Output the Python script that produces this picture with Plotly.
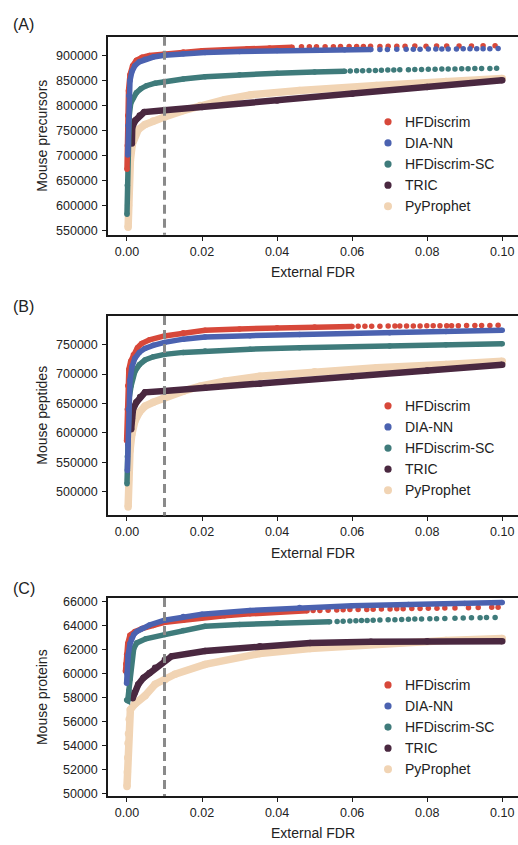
import plotly.graph_objects as go

# ---------------------------------------------------------------- data
SERIES = ["HFDiscrim", "DIA-NN", "HFDiscrim-SC", "TRIC", "PyProphet"]
COLORS = {
    "HFDiscrim": "#D7483A",
    "DIA-NN": "#4B62B0",
    "HFDiscrim-SC": "#3F7B7B",
    "TRIC": "#4A2840",
    "PyProphet": "#F1D4B4",
}
WIDTHS = {"HFDiscrim": 5.5, "DIA-NN": 5.5, "HFDiscrim-SC": 5.5, "TRIC": 6.5, "PyProphet": 7.5}
DRAW_ORDER = ["PyProphet", "TRIC", "HFDiscrim-SC", "HFDiscrim", "DIA-NN"]

x_ticks = [0.00, 0.02, 0.04, 0.06, 0.08, 0.10]
x_tick_labels = ["0.00", "0.02", "0.04", "0.06", "0.08", "0.10"]
prec_ticks = [550000, 600000, 650000, 700000, 750000, 800000, 850000, 900000]
pep_ticks = [500000, 550000, 600000, 650000, 700000, 750000]
prot_ticks = [50000, 52000, 54000, 56000, 58000, 60000, 62000, 64000, 66000]

# (A) precursors
prec_hfd_fdr = [0.0000, 0.0001, 0.0002, 0.0004, 0.0008, 0.0015, 0.0025, 0.0040, 0.0060, 0.0100,
                0.0150, 0.0200, 0.0260, 0.0320, 0.0380, 0.0440]
prec_hfd_n = [672000, 720000, 780000, 830000, 862000, 880000, 891000, 897000, 900800, 904000,
              907500, 910000, 912300, 914200, 915800, 917000]
prec_hfd_tail_fdr = [0.0465, 0.0486, 0.0505, 0.0528, 0.0550, 0.0569, 0.0592, 0.0612, 0.0630, 0.0649,
                     0.0674, 0.0696, 0.0719, 0.0741, 0.0767, 0.0797, 0.0825, 0.0852, 0.0885, 0.0918,
                     0.0949, 0.0981]
prec_hfd_tail_n = [918000, 918200, 918100, 918400, 918300, 918600, 918500, 918800, 918700, 919000,
                   918900, 919200, 919100, 919300, 919500, 919400, 919700, 919600, 919900, 919800,
                   920100, 920000]

prec_dia_fdr = [0.0002, 0.0003, 0.0005, 0.0008, 0.0013, 0.0021, 0.0033, 0.0048, 0.0070, 0.0100,
                0.0150, 0.0208, 0.0300, 0.0400, 0.0500, 0.0580, 0.0650]
prec_dia_n = [701000, 760000, 820000, 850000, 868000, 880000, 888000, 893000, 897500, 901000,
              904000, 906500, 908800, 910500, 911500, 912200, 912600]
prec_dia_tail_fdr = [0.0674, 0.0694, 0.0719, 0.0744, 0.0763, 0.0781, 0.0803, 0.0823, 0.0839, 0.0856,
                     0.0878, 0.0896, 0.0914, 0.0932, 0.0949, 0.0967, 0.0989]
prec_dia_tail_n = [912800, 912900, 913000, 913200, 913300, 913400, 913500, 913600, 913700, 913800,
                   913900, 914000, 914100, 914200, 914300, 914400, 914500]

prec_sc_fdr = [0.0000, 0.0001, 0.0003, 0.0006, 0.0010, 0.0016, 0.0025, 0.0037, 0.0052, 0.0075,
               0.0100, 0.0150, 0.0208, 0.0300, 0.0400, 0.0500, 0.0580]
prec_sc_n = [582000, 640000, 720000, 780000, 805000, 816000, 826000, 834000, 840000, 845000,
             848000, 853500, 858000, 862000, 865000, 867500, 869200]
prec_sc_tail_fdr = [0.0595, 0.0612, 0.0628, 0.0645, 0.0662, 0.0678, 0.0695, 0.0711, 0.0727, 0.0750,
                    0.0767, 0.0785, 0.0803, 0.0821, 0.0839, 0.0856, 0.0874, 0.0892, 0.0909, 0.0927,
                    0.0945, 0.0967, 0.0985]
prec_sc_tail_n = [869500, 869800, 870100, 870400, 870700, 871000, 871300, 871600, 871900, 872200,
                  872500, 872700, 872900, 873100, 873300, 873500, 873700, 873900, 874100, 874300,
                  874500, 874700, 874900]

prec_tric_fdr = [0.0013, 0.0014, 0.0022, 0.0034, 0.0046, 0.0100, 0.0200, 0.0400, 0.0600, 0.0800, 0.1000]
prec_tric_n = [724000, 757000, 770000, 780000, 787000, 790500, 797000, 810500, 824000, 837500, 851000]

prec_pyp_fdr = [0.0003, 0.0004, 0.0006, 0.0009, 0.0014, 0.0021, 0.0030, 0.0048, 0.0070, 0.0100,
                0.0150, 0.0195, 0.0260, 0.0328, 0.0460, 0.0665, 0.0850, 0.1000]
prec_pyp_n = [556000, 600000, 650000, 690000, 722000, 740000, 752000, 762000, 769000, 777000,
              790000, 800000, 812000, 821500, 830500, 840500, 848500, 854500]

# (B) peptides
pep_hfd_fdr = [-0.0001, 0.0001, 0.0002, 0.0005, 0.0010, 0.0017, 0.0028, 0.0039, 0.0060, 0.0100,
               0.0150, 0.0208, 0.0300, 0.0400, 0.0500, 0.0600]
pep_hfd_n = [586500, 640000, 680000, 708000, 722000, 733000, 745000, 752000, 758500, 765000,
             770500, 774500, 777000, 779000, 780300, 781200]
pep_hfd_tail_fdr = [0.0616, 0.0634, 0.0652, 0.0674, 0.0696, 0.0714, 0.0727, 0.0745, 0.0763, 0.0781,
                    0.0799, 0.0816, 0.0834, 0.0852, 0.0865, 0.0883, 0.0905, 0.0927, 0.0945, 0.0967,
                    0.0989]
pep_hfd_tail_n = [781300, 781400, 781500, 781600, 781700, 781800, 781850, 781900, 782000, 782100,
                  782150, 782200, 782300, 782400, 782450, 782500, 782600, 782700, 782800, 782900,
                  783000]

pep_dia_fdr = [0.0001, 0.0002, 0.0004, 0.0008, 0.0013, 0.0021, 0.0033, 0.0048, 0.0070, 0.0100,
               0.0150, 0.0208, 0.0328, 0.0460, 0.0700, 0.0850, 0.1000]
pep_dia_n = [536000, 580000, 640000, 690000, 712000, 727000, 737000, 743800, 749000, 754000,
             759500, 763000, 765500, 767500, 770500, 772500, 774500]

pep_sc_fdr = [0.0000, 0.0001, 0.0003, 0.0006, 0.0011, 0.0021, 0.0033, 0.0048, 0.0070, 0.0100,
              0.0150, 0.0208, 0.0328, 0.0460, 0.0700, 0.0850, 0.1000]
pep_sc_n = [513500, 560000, 620000, 660000, 680000, 704500, 716000, 724000, 729500, 733600,
            737000, 739500, 742500, 745000, 748000, 749800, 751500]

pep_tric_fdr = [0.0011, 0.0013, 0.0016, 0.0025, 0.0035, 0.0048, 0.0100, 0.0208, 0.0354, 0.0600,
                0.0800, 0.1000]
pep_tric_n = [606000, 625000, 640000, 652000, 661000, 669000, 671300, 676800, 683700, 696000,
              706000, 716000]

pep_pyp_fdr = [0.0003, 0.0004, 0.0006, 0.0008, 0.0013, 0.0021, 0.0033, 0.0048, 0.0070, 0.0097,
               0.0150, 0.0195, 0.0260, 0.0354, 0.0500, 0.0665, 0.0850, 0.1000]
pep_pyp_n = [474000, 520000, 555000, 570000, 598000, 620000, 635000, 645500, 652000, 659000,
             671000, 679500, 688000, 696500, 704000, 710700, 716500, 722000]

# (C) proteins
prot_hfd_fdr = [-0.0004, -0.0003, -0.0001, 0.0002, 0.0008, 0.0021, 0.0040, 0.0070, 0.0097, 0.0150,
                0.0200, 0.0260, 0.0328, 0.0400, 0.0480]
prot_hfd_n = [60200, 60800, 61600, 62500, 63200, 63500, 63750, 64000, 64250, 64450,
              64650, 64820, 64980, 65120, 65230]
prot_hfd_tail_fdr = [0.0496, 0.0514, 0.0536, 0.0559, 0.0576, 0.0594, 0.0616, 0.0639, 0.0656, 0.0678,
                     0.0701, 0.0719, 0.0736, 0.0759, 0.0781, 0.0803, 0.0826, 0.0847, 0.0874, 0.0910,
                     0.0936, 0.0972, 0.0989]
prot_hfd_tail_n = [65250, 65260, 65280, 65300, 65310, 65330, 65340, 65350, 65360, 65380,
                   65390, 65400, 65410, 65420, 65430, 65440, 65450, 65460, 65470, 65490,
                   65500, 65520, 65530]

prot_dia_fdr = [-0.0001, 0.0000, 0.0003, 0.0008, 0.0012, 0.0018, 0.0026, 0.0040, 0.0060, 0.0100,
                0.0150, 0.0200, 0.0328, 0.0460, 0.0600, 0.0750, 0.0900, 0.1000]
prot_dia_n = [59200, 60000, 61500, 62500, 62900, 63250, 63500, 63750, 64050, 64450,
              64750, 64950, 65260, 65500, 65650, 65750, 65850, 65930]

prot_sc_fdr = [-0.0001, 0.0002, 0.0005, 0.0008, 0.0012, 0.0018, 0.0026, 0.0050, 0.0101, 0.0150,
               0.0208, 0.0300, 0.0400, 0.0540]
prot_sc_n = [57800, 57750, 58600, 59530, 61180, 62100, 62560, 62900, 63250, 63600,
             63940, 64100, 64230, 64330]
prot_sc_tail_fdr = [0.0560, 0.0576, 0.0594, 0.0610, 0.0625, 0.0640, 0.0656, 0.0674, 0.0696, 0.0714,
                    0.0732, 0.0750, 0.0767, 0.0785, 0.0807, 0.0825, 0.0847, 0.0874, 0.0896, 0.0918,
                    0.0941, 0.0958, 0.0981]
prot_sc_tail_n = [64350, 64370, 64390, 64400, 64420, 64430, 64440, 64460, 64480, 64490,
                  64510, 64520, 64540, 64550, 64570, 64580, 64600, 64620, 64640, 64650,
                  64660, 64670, 64680]

prot_tric_fdr = [0.0015, 0.0020, 0.0030, 0.0044, 0.0060, 0.0075, 0.0101, 0.0119, 0.0208, 0.0354,
                 0.0488, 0.0650, 0.0800, 0.1000]
prot_tric_n = [57950, 58400, 59100, 59650, 60050, 60500, 61150, 61450, 61880, 62290,
               62560, 62650, 62690, 62700]

prot_pyp_fdr = [0.0000, 0.0001, 0.0002, 0.0003, 0.0004, 0.0006, 0.0009, 0.0021, 0.0048, 0.0075,
                0.0101, 0.0128, 0.0208, 0.0354, 0.0488, 0.0700, 0.0850, 0.1000]
prot_pyp_n = [50600, 51800, 53000, 54200, 55000, 56200, 57000, 57470, 58160, 59120,
              59490, 59950, 60770, 61680, 62090, 62560, 62760, 62920]

# ---------------------------------------------------------------- layout geometry (px)
W, H = 518, 845
ML = 108
FONT = "Liberation Sans, Arial, Helvetica, sans-serif"
TEXT = "#222222"
AXIS = "#1a1a1a"

panels = [
    dict(label="(A)", ytitle="Mouse precursors", top=34, bottom=234,
         yrange=[540650, 938400], yticks=prec_ticks, label_y=22, legend_y=120,
         series={
             "HFDiscrim": (prec_hfd_fdr, prec_hfd_n, prec_hfd_tail_fdr, prec_hfd_tail_n),
             "DIA-NN": (prec_dia_fdr, prec_dia_n, prec_dia_tail_fdr, prec_dia_tail_n),
             "HFDiscrim-SC": (prec_sc_fdr, prec_sc_n, prec_sc_tail_fdr, prec_sc_tail_n),
             "TRIC": (prec_tric_fdr, prec_tric_n, [], []),
             "PyProphet": (prec_pyp_fdr, prec_pyp_n, [], []),
         }),
    dict(label="(B)", ytitle="Mouse peptides", top=316, bottom=517.3,
         yrange=[459540, 798900], yticks=pep_ticks, label_y=306.5, legend_y=406.7,
         series={
             "HFDiscrim": (pep_hfd_fdr, pep_hfd_n, pep_hfd_tail_fdr, pep_hfd_tail_n),
             "DIA-NN": (pep_dia_fdr, pep_dia_n, [], []),
             "HFDiscrim-SC": (pep_sc_fdr, pep_sc_n, [], []),
             "TRIC": (pep_tric_fdr, pep_tric_n, [], []),
             "PyProphet": (pep_pyp_fdr, pep_pyp_n, [], []),
         }),
    dict(label="(C)", ytitle="Mouse proteins", top=600.7, bottom=800.7,
         yrange=[49802, 66297], yticks=prot_ticks, label_y=591.5, legend_y=688.4,
         series={
             "HFDiscrim": (prot_hfd_fdr, prot_hfd_n, prot_hfd_tail_fdr, prot_hfd_tail_n),
             "DIA-NN": (prot_dia_fdr, prot_dia_n, [], []),
             "HFDiscrim-SC": (prot_sc_fdr, prot_sc_n, prot_sc_tail_fdr, prot_sc_tail_n),
             "TRIC": (prot_tric_fdr, prot_tric_n, [], []),
             "PyProphet": (prot_pyp_fdr, prot_pyp_n, [], []),
         }),
]


def px_x(px):
    return (px - ML) / (W - ML)


def px_y(py):
    return 1 - py / H


fig = go.Figure()
shapes, annotations = [], []
LEGEND_STEP = 21.3

for i, p in enumerate(panels):
    sfx = "" if i == 0 else str(i + 1)
    xa, ya = "x" + sfx, "y" + sfx

    for name in DRAW_ORDER:
        fdr, n, tail_fdr, tail_n = p["series"][name]
        col, w = COLORS[name], WIDTHS[name]
        fig.add_trace(go.Scatter(x=fdr, y=n, mode="lines", line=dict(color=col, width=w),
                                 xaxis=xa, yaxis=ya, showlegend=False, hoverinfo="skip"))
        fig.add_trace(go.Scatter(x=fdr + tail_fdr, y=n + tail_n, mode="markers",
                                 marker=dict(color=col, size=w, line=dict(width=0)),
                                 name=name, xaxis=xa, yaxis=ya, showlegend=False))

    fig.layout["xaxis" + sfx] = dict(
        domain=[0, 1], anchor=ya, range=[-0.00506, 0.1042],
        tickmode="array", tickvals=x_ticks, ticktext=x_tick_labels,
        showline=True, linecolor=AXIS, linewidth=1.5, mirror=True,
        ticks="outside", ticklen=4, tickwidth=1.2, tickcolor=AXIS,
        showgrid=False, zeroline=False, ticklabelstandoff=0,
        tickfont=dict(family=FONT, size=12.5, color=TEXT))
    fig.layout["yaxis" + sfx] = dict(
        domain=[px_y(p["bottom"]), px_y(p["top"])], anchor=xa, range=p["yrange"],
        tickmode="array", tickvals=p["yticks"], tickformat="d",
        showline=True, linecolor=AXIS, linewidth=1.5, mirror=False,
        ticks="outside", ticklen=4, tickwidth=1.2, tickcolor=AXIS,
        showgrid=False, zeroline=False, ticklabelstandoff=2,
        tickfont=dict(family=FONT, size=12.5, color=TEXT))

    # 1% FDR threshold
    shapes.append(dict(type="line", xref=xa, yref=ya + " domain", x0=0.01, x1=0.01, y0=1, y1=0,
                       line=dict(color="#8a8a8a", width=3, dash="9px,5px"), layer="above"))

    # panel label and axis titles
    annotations.append(dict(text=p["label"], xref="paper", yref="paper", x=px_x(11), y=px_y(p["label_y"]),
                            xanchor="left", yanchor="middle", showarrow=False,
                            font=dict(family=FONT, size=16, color=TEXT)))
    annotations.append(dict(text=p["ytitle"], xref="paper", yref="paper", x=px_x(42),
                            y=px_y((p["top"] + p["bottom"]) / 2), textangle=-90,
                            xanchor="center", yanchor="middle", showarrow=False,
                            font=dict(family=FONT, size=14, color=TEXT)))
    annotations.append(dict(text="External FDR", xref="paper", yref="paper", x=px_x(313),
                            y=px_y(p["bottom"] + 37.5), xanchor="center", yanchor="middle",
                            showarrow=False, font=dict(family=FONT, size=14, color=TEXT)))

    # legend: dot + label per method
    for k, name in enumerate(SERIES):
        cy = p["legend_y"] + k * LEGEND_STEP
        r = 3.6 if name != "PyProphet" else 4.0
        shapes.append(dict(type="circle", xref="paper", yref="paper",
                           xsizemode="pixel", ysizemode="pixel",
                           xanchor=px_x(388), yanchor=px_y(cy),
                           x0=-r, x1=r, y0=-r, y1=r,
                           fillcolor=COLORS[name], line=dict(width=0)))
        annotations.append(dict(text=name, xref="paper", yref="paper", x=px_x(402.5), y=px_y(cy),
                                xanchor="left", yanchor="middle", showarrow=False,
                                font=dict(family=FONT, size=14, color=TEXT)))

fig.update_layout(
    width=W, height=H, margin=dict(l=ML, r=0, t=0, b=0),
    paper_bgcolor="white", plot_bgcolor="white",
    font=dict(family=FONT, color=TEXT),
    shapes=shapes, annotations=annotations, showlegend=False,
)

fig.write_html("out.html")
